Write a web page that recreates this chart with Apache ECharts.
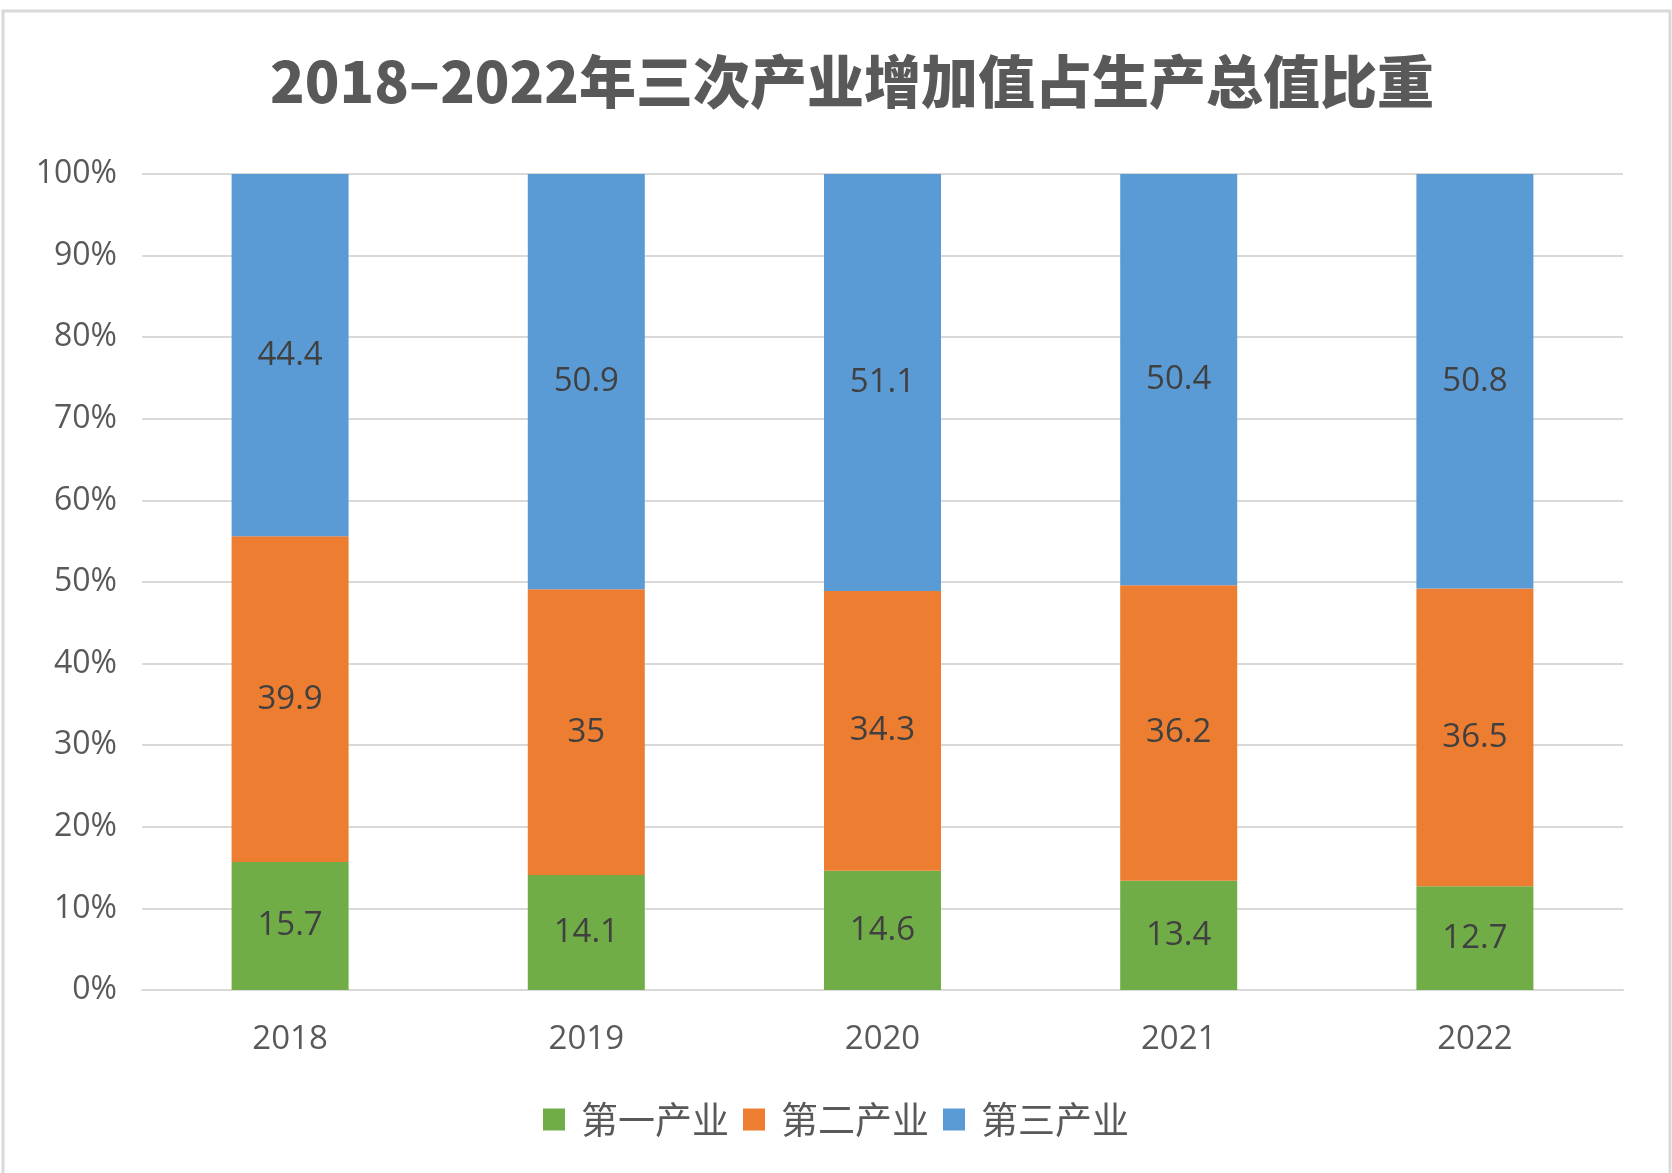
<!DOCTYPE html>
<html>
<head>
<meta charset="utf-8">
<script src="https://cdn.jsdelivr.net/npm/echarts@6/dist/echarts.min.js"></script>
<style>
html,body{margin:0;padding:0;background:#fff;}
#c{width:1672px;height:1173px;}
</style>
</head>
<body>
<div id="c"></div>
<script>
var titleText = '2018–2022年三次产业增加值占生产总值比重';
var categories = ['2018', '2019', '2020', '2021', '2022'];
var seriesNames = ['第一产业', '第二产业', '第三产业'];
var primary = [15.7, 14.1, 14.6, 13.4, 12.7];
var secondary = [39.9, 35, 34.3, 36.2, 36.5];
var tertiary = [44.4, 50.9, 51.1, 50.4, 50.8];
var colors = ['#70AD47', '#ED7D31', '#5B9BD5'];

var chart = echarts.init(document.getElementById('c'));
var numFont = 'Open Sans';
function mk(name, data, color) {
  return {
    name: name,
    type: 'bar',
    stack: 'total',
    barWidth: 117,
    data: data,
    itemStyle: { color: color },
    label: {
      show: true,
      position: 'inside',
      color: '#404040',
      fontFamily: numFont,
      fontSize: 33
    }
  };
}
chart.setOption({
  animation: false,
  backgroundColor: '#ffffff',
  graphic: [{
    type: 'rect',
    shape: { x: 3, y: 11, width: 1667, height: 1175 },
    style: { fill: 'none', stroke: '#d9d9d9', lineWidth: 3 },
    silent: true
  }],
  title: {
    text: titleText,
    left: 847,
    top: 48,
    textAlign: 'center',
    textStyle: {
      fontFamily: 'Noto Sans CJK SC',
      fontWeight: 900,
      fontSize: 57,
      color: '#595959'
    }
  },
  legend: {
    data: seriesNames,
    left: 'center',
    top: 1096,
    itemWidth: 22,
    itemHeight: 22,
    itemGap: 14,
    icon: 'rect',
    textStyle: {
      fontFamily: 'Noto Sans CJK SC',
      fontSize: 37,
      color: '#595959',
      padding: [0, 0, 0, 11]
    }
  },
  grid: {
    left: 142,
    right: 49,
    top: 174,
    bottom: 183,
    containLabel: false
  },
  xAxis: {
    type: 'category',
    data: categories,
    axisLine: { show: true, lineStyle: { color: '#d9d9d9', width: 2 } },
    axisTick: { show: false },
    axisLabel: {
      fontFamily: numFont,
      fontSize: 33,
      color: '#595959',
      margin: 33
    }
  },
  yAxis: {
    type: 'value',
    min: 0,
    max: 100,
    interval: 10,
    axisLine: { show: false },
    axisTick: { show: false },
    splitLine: { lineStyle: { color: '#d9d9d9', width: 2 } },
    axisLabel: {
      formatter: '{value}%',
      fontFamily: numFont,
      fontSize: 32,
      color: '#595959',
      margin: 25
    }
  },
  series: [
    mk(seriesNames[0], primary, colors[0]),
    mk(seriesNames[1], secondary, colors[1]),
    mk(seriesNames[2], tertiary, colors[2])
  ]
});
</script>
</body>
</html>
